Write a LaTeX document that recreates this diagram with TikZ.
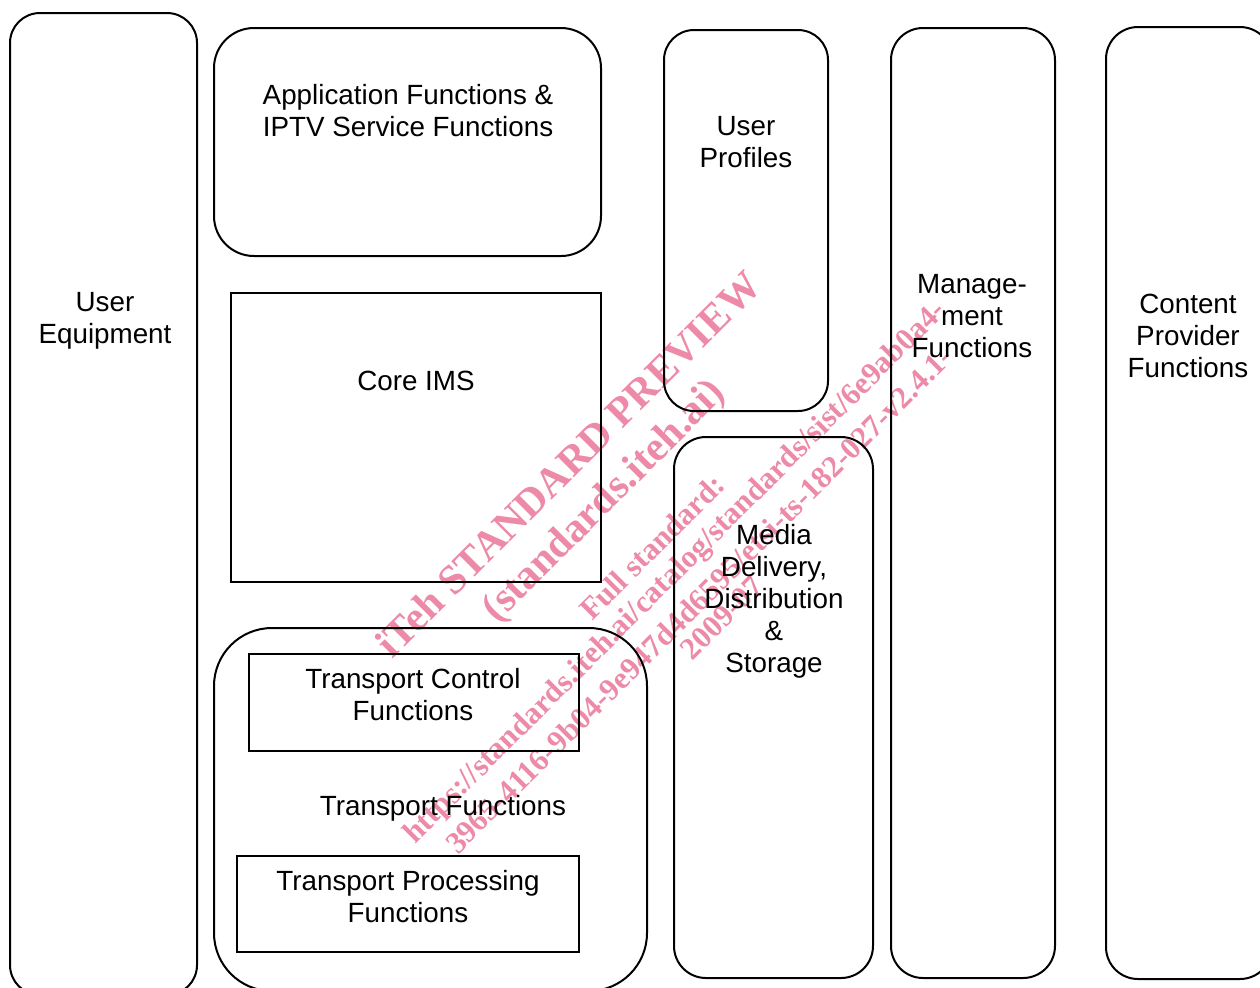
\documentclass[tikz,border=0pt]{standalone}
\usepackage{fontspec}
\setmainfont{Liberation Sans}
\newfontfamily\markfont{Liberation Serif}
\usepackage{tikz}

\definecolor{markpink}{RGB}{236,138,168}

\begin{document}
\begin{tikzpicture}[x=0.5pt,y=-0.5pt]
% Block style
\tikzset{
    block/.style={draw, line width=1pt},
    blocktext/.style={align=center, inner sep=0pt, font=\fontsize{13.9}{16}\selectfont},
    markbig/.style={text=markpink, rotate=45, inner sep=0pt, font=\markfont\bfseries\fontsize{20.8}{24}\selectfont},
    marksmall/.style={markbig, font=\markfont\bfseries\fontsize{15.5}{18}\selectfont}
}
\useasboundingbox (0,0) rectangle (1260,987);
\clip (0,0) rectangle (1260,987);
% Watermark
\node[markbig] (WMa) at (568,464) {iTeh STANDARD PREVIEW};
\node[markbig] (WMb) at (605,502) {(standards.iteh.ai)};
\node[marksmall] (WMc) at (652,547) {Full standard:};
\node[marksmall] (WMd) at (676,573) {https://standards.iteh.ai/catalog/standards/sist/6e9ab0a4-};
\node[marksmall] (WMe) at (699,600) {3965-4116-9b04-9e947d4d6595/etsi-ts-182-027-v2.4.1-};
\node[marksmall] (WMf) at (722,618) {2009-07};
% Blocks
\draw[block, rounded corners=15pt] (10,13) rectangle (197,995);
\draw[block, rounded corners=20pt] (214,28) rectangle (601,256);
\draw[block] (231,293) rectangle (601,582);
\draw[block, rounded corners=29pt] (214,628) rectangle (647,991);
\draw[block] (249,654) rectangle (579,751);
\draw[block] (237,856) rectangle (579,952);
\draw[block, rounded corners=15pt] (664,30) rectangle (828,411);
\draw[block, rounded corners=16pt] (674,437) rectangle (873,978);
\draw[block, rounded corners=16pt] (891,28) rectangle (1055,978);
\draw[block, rounded corners=16pt] (1106,27) rectangle (1272,979);
% Labels
\node[blocktext] (UE) at (105,321) {User\\Equipment};
\node[blocktext] (AF) at (408,111) {Application Functions \&\\IPTV Service Functions};
\node[blocktext] (IMS) at (416,381) {Core IMS};
\node[blocktext] (TCF) at (413,695) {Transport Control\\Functions};
\node[blocktext] (TF) at (443,808) {Transport Functions};
\node[blocktext] (TPF) at (408,897) {Transport Processing\\Functions};
\node[blocktext] (UP) at (746,142) {User\\Profiles};
\node[blocktext] (MDF) at (774,601) {Media\\Delivery,\\Distribution\\\&\\Storage};
\node[blocktext] (MF) at (972,316) {Manage-\\ment\\Functions};
\node[blocktext] (CPF) at (1188,336) {Content\\Provider\\Functions};
\end{tikzpicture}
\end{document}
